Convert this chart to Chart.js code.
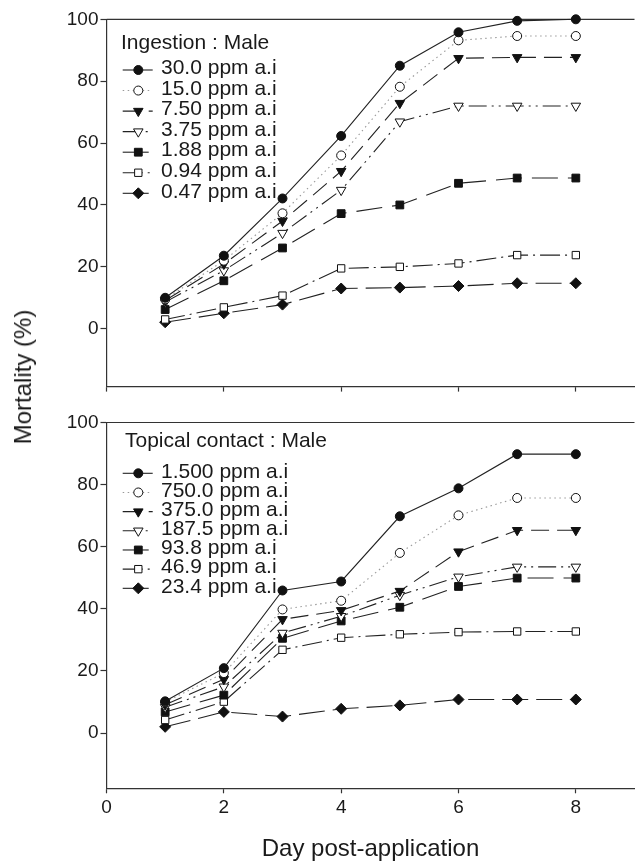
<!DOCTYPE html>
<html>
<head>
<meta charset="utf-8">
<script src="https://cdn.jsdelivr.net/npm/chart.js@4.4.0/dist/chart.umd.min.js"></script>
<style>
  html, body { margin: 0; padding: 0; background: #fff; overflow: hidden; }
  .panel { position: absolute; left: 0; }
  #top_panel { top: 0; }
  #bottom_panel { top: 400px; }
  .y_title {
    position: absolute; left: 23.4px; top: 377px;
    transform: translate(-50%, -50%) rotate(-90deg);
    font: 24px "Liberation Sans", Arial, sans-serif; line-height: 24px;
    white-space: nowrap; color: #1a1a1a;
  }
</style>
</head>
<body>
<div class="panel" id="top_panel"><canvas id="ingestionChart" width="641" height="400"></canvas></div>
<div class="panel" id="bottom_panel"><canvas id="topicalChart" width="641" height="461"></canvas></div>
<div class="y_title">Mortality (%)</div>
<script>
/* ================== data ================== */
var days = [1, 2, 3, 4, 5, 6, 7, 8];
var xTicks = [0, 2, 4, 6, 8];
var yTicks = [0, 20, 40, 60, 80, 100];

// Ingestion : Male
var ingestionLabels = ["30.0 ppm a.i", "15.0 ppm a.i", "7.50 ppm a.i", "3.75 ppm a.i", "1.88 ppm a.i", "0.94 ppm a.i", "0.47 ppm a.i"];
var ing_300 = [10, 23.6, 42.1, 62.3, 85, 95.8, 99.5, 100];
var ing_150 = [9.5, 22, 37.3, 56, 78.2, 93.2, 94.6, 94.6];
var ing_750 = [9.1, 20.9, 34.8, 50.9, 72.9, 87.4, 87.7, 87.7];
var ing_375 = [8.6, 18.8, 30.9, 44.8, 66.9, 72, 72, 72];
var ing_188 = [6.2, 15.5, 26.1, 37.2, 40, 47, 48.7, 48.7];
var ing_094 = [3, 6.9, 10.7, 19.5, 20, 21.1, 23.8, 23.8];
var ing_047 = [2.1, 5, 7.8, 13, 13.3, 13.8, 14.7, 14.7];

// Topical contact : Male
var topicalLabels = ["1.500 ppm a.i", "750.0 ppm a.i", "375.0 ppm a.i", "187.5 ppm a.i", "93.8 ppm a.i", "46.9 ppm a.i", "23.4 ppm a.i"];
var top_1500 = [10.2, 20.9, 45.9, 48.8, 69.8, 78.8, 89.8, 89.8];
var top_7500 = [10, 19.3, 39.8, 42.6, 58, 70.1, 75.7, 75.7];
var top_3750 = [9.1, 17.3, 36.6, 39.5, 45.7, 58.4, 65.3, 65.3];
var top_1875 = [8.3, 14.9, 32.2, 37.6, 44.4, 50.3, 53.5, 53.5];
var top_938 = [6.8, 12.2, 30.5, 36.1, 40.5, 47.2, 49.9, 49.9];
var top_469 = [4.2, 10.1, 26.8, 30.7, 31.8, 32.5, 32.7, 32.7];
var top_234 = [2, 6.8, 5.3, 7.8, 8.9, 10.8, 10.8, 10.8];

/* ================== styles ================== */
var fontFam = "'Liberation Sans', Arial, sans-serif";
var ink = "#1a1a1a";
var axisColor = "#333";

// one style per dose rank, same for both panels
var seriesStyles = [
  { pointStyle: "circle", rotation: 0, fill: "#111", radius: 4.5, dash: [], color: "#222" },
  { pointStyle: "circle", rotation: 0, fill: "#fff", radius: 4.5, dash: [1.5, 3.5], color: "#999" },
  { pointStyle: "triangle", rotation: 180, fill: "#111", radius: 5.5, dash: [18, 8], color: "#222" },
  { pointStyle: "triangle", rotation: 180, fill: "#fff", radius: 5.5, dash: [18, 5, 2, 5, 2, 5], color: "#222" },
  { pointStyle: "rect", rotation: 0, fill: "#111", radius: 5.5, dash: [26, 10], color: "#222" },
  { pointStyle: "rect", rotation: 0, fill: "#fff", radius: 5.2, dash: [20, 5, 2, 5], color: "#222" },
  { pointStyle: "rectRot", rotation: 0, fill: "#111", radius: 5.5, dash: [26, 8], color: "#222" },
];

function buildDatasets(labels, seriesList) {
  return seriesList.map(function (vals, i) {
    var st = seriesStyles[i];
    return {
      label: labels[i],
      data: days.map(function (d, k) { return { x: d, y: vals[k] }; }),
      borderColor: st.color,
      borderWidth: 1.1,
      borderDash: st.dash,
      pointStyle: st.pointStyle,
      pointRotation: st.rotation,
      pointRadius: st.radius,
      pointBackgroundColor: st.fill,
      pointBorderColor: "#111",
      pointBorderWidth: 1,
      tension: 0,
      clip: false,
    };
  });
}

/* ================== top frame + inset legend ================== */
var panelDecor = {
  id: "panelDecor",
  beforeDatasetsDraw: function (chart) {
    var ctx = chart.ctx, area = chart.chartArea;
    ctx.save();
    ctx.strokeStyle = axisColor;
    ctx.lineWidth = 1.2;
    ctx.beginPath();
    ctx.moveTo(area.left, area.top);
    ctx.lineTo(area.right, area.top);
    ctx.stroke();
    ctx.restore();
  },
  afterDatasetsDraw: function (chart, args, opts) {
    var ctx = chart.ctx;
    ctx.save();
    ctx.font = "21px " + fontFam;
    ctx.fillStyle = ink;
    ctx.textBaseline = "alphabetic";
    ctx.fillText(opts.title, opts.titleX, opts.titleY);
    chart.data.datasets.forEach(function (ds, i) {
      var y = opts.rowY + i * opts.rowH;
      ctx.setLineDash(ds.borderDash || []);
      ctx.strokeStyle = ds.borderColor;
      ctx.lineWidth = ds.borderWidth;
      ctx.beginPath();
      ctx.moveTo(opts.lineX0, y);
      ctx.lineTo(opts.lineX1, y);
      ctx.stroke();
      ctx.setLineDash([]);
      ctx.fillStyle = ds.pointBackgroundColor;
      ctx.strokeStyle = ds.pointBorderColor;
      ctx.lineWidth = 1;
      Chart.helpers.drawPoint(ctx, {
        pointStyle: ds.pointStyle, rotation: ds.pointRotation,
        radius: ds.pointRadius, borderWidth: 1,
      }, opts.markX, y);
      ctx.fillStyle = ink;
      ctx.textBaseline = "middle";
      ctx.fillText(ds.label, opts.textX, y - 1.5);
    });
    ctx.restore();
  },
};

function axisOptions(yMin, xHeight, showX) {
  return {
    x: {
      type: "linear", min: 0, max: 9,
      afterBuildTicks: function (axis) { axis.ticks = xTicks.map(function (v) { return { value: v }; }); },
      afterFit: function (axis) { axis.height = xHeight; },
      border: { display: true, color: axisColor, width: 1.2 },
      grid: { drawOnChartArea: false, drawTicks: true, tickLength: 5, tickColor: axisColor, tickWidth: 1.2 },
      ticks: { display: showX, font: { family: fontFam, size: 19 }, color: ink, padding: 3 },
      title: {
        display: showX, text: "Day post-application", color: ink,
        font: { family: fontFam, size: 24, lineHeight: 1 }, padding: { top: 0, bottom: 0 },
      },
    },
    y: {
      min: yMin, max: 100,
      afterBuildTicks: function (axis) { axis.ticks = yTicks.map(function (v) { return { value: v }; }); },
      afterFit: function (axis) { axis.width = 106.5; },
      border: { display: true, color: axisColor, width: 1.2 },
      grid: { drawOnChartArea: false, drawTicks: true, tickLength: 6, tickColor: axisColor, tickWidth: 1.2 },
      ticks: { font: { family: fontFam, size: 19 }, color: ink, padding: 2 },
    },
  };
}

/* ================== chart 1 : ingestion ================== */
var ctx_top = document.getElementById("ingestionChart").getContext("2d");
var ingestionChart = new Chart(ctx_top, {
  type: "line",
  data: { datasets: buildDatasets(ingestionLabels, [ing_300, ing_150, ing_750, ing_375, ing_188, ing_094, ing_047]) },
  options: {
    responsive: false,
    animation: false,
    layout: { padding: { top: 19.3, left: 0, right: 0, bottom: 0 } },
    scales: axisOptions(-18.7, 11.7, false),
    plugins: {
      legend: { display: false },
      tooltip: { enabled: false },
      panelDecor: {
        title: "Ingestion : Male", titleX: 121, titleY: 48.5,
        rowY: 70, rowH: 20.55, lineX0: 122.7, lineX1: 152.7, markX: 138.3, textX: 161,
      },
    },
  },
  plugins: [panelDecor],
});

/* ================== chart 2 : topical contact ================== */
var ctx_bottom = document.getElementById("topicalChart").getContext("2d");
var topicalChart = new Chart(ctx_bottom, {
  type: "line",
  data: { datasets: buildDatasets(topicalLabels, [top_1500, top_7500, top_3750, top_1875, top_938, top_469, top_234]) },
  options: {
    responsive: false,
    animation: false,
    layout: { padding: { top: 22.5, left: 0, right: 0, bottom: 0 } },
    scales: axisOptions(-17.8, 72.7, true),
    plugins: {
      legend: { display: false },
      tooltip: { enabled: false },
      panelDecor: {
        title: "Topical contact : Male", titleX: 125, titleY: 46.5,
        rowY: 73.3, rowH: 19.17, lineX0: 122.7, lineX1: 152.7, markX: 138.3, textX: 161,
      },
    },
  },
  plugins: [panelDecor],
});
</script>
</body>
</html>
